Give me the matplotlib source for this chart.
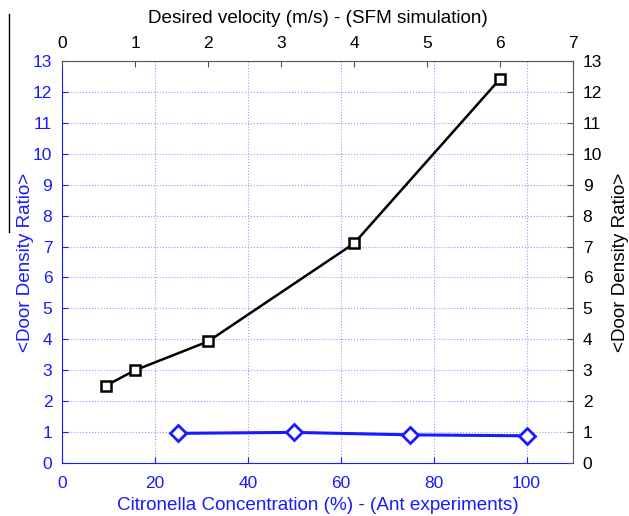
import matplotlib
matplotlib.use("Agg")
import matplotlib.pyplot as plt
from matplotlib.lines import Line2D

plt.rcParams['font.family'] = ['Liberation Sans', 'DejaVu Sans']

# Data
sfm_velocity = [0.6, 1, 2, 4, 6]
sfm_ratio = [2.5, 3.0, 3.93, 7.1, 12.42]
ant_conc = [25, 50, 75, 100]
ant_ratio = [0.96, 0.99, 0.91, 0.88]

bottom_ticks = [0, 20, 40, 60, 80, 100]
top_ticks = [0, 1, 2, 3, 4, 5, 6, 7]
y_ticks = list(range(0, 14))

BLUE = '#1a1aff'
TS = 12.5
LS = 13.6
fig = plt.figure(figsize=(6.29, 5.16), dpi=100)
ax = fig.add_axes([0.0986, 0.1027, 0.8124, 0.7791])

ax.set_xlim(0, 110)
ax.set_ylim(0, 13)
ax.set_xticks(bottom_ticks)
ax.set_yticks(y_ticks)
ax.grid(True, linestyle=':', color='#9999ff', linewidth=0.8)
ax.tick_params(axis='both', direction='in', colors=BLUE, labelsize=TS, length=4)
ax.tick_params(axis='x', pad=9)
ax.tick_params(axis='y', pad=7)
for s in ['left', 'bottom']:
    ax.spines[s].set_color(BLUE)
for s in ['top', 'right']:
    ax.spines[s].set_color('#555555')
ax.plot(ant_conc, ant_ratio, color=BLUE, linewidth=2.2, marker='D', markersize=8,
        markerfacecolor='white', markeredgecolor=BLUE, markeredgewidth=2, zorder=5)
ax.set_xlabel('Citronella Concentration (%) - (Ant experiments)', color=BLUE, fontsize=LS, va='center')
ax.xaxis.set_label_coords(0.5, (463 - 505) / 402)
ax.set_ylabel('<Door Density Ratio>', color=BLUE, fontsize=LS, va='center')
ax.yaxis.set_label_coords((25 - 62) / 511, 0.5)

# right y-axis
axr = ax.twinx()
axr.set_ylim(0, 13)
axr.set_yticks(y_ticks)
axr.tick_params(axis='y', direction='in', colors='#555555', labelcolor='black', labelsize=TS, length=4, pad=7)
axr.set_ylabel('<Door Density Ratio>', color='black', fontsize=LS, va='center')
axr.yaxis.set_label_coords((620 - 62) / 511, 0.5)
for s in axr.spines.values():
    s.set_visible(False)

# top x-axis
axt = ax.twiny()
axt.set_xlim(0, 7)
axt.set_xticks(top_ticks)
axt.tick_params(axis='x', direction='in', colors='#555555', labelcolor='black', labelsize=TS, length=4, pad=7)
axt.set_xlabel('Desired velocity (m/s) - (SFM simulation)', color='black', fontsize=LS, va='center')
axt.xaxis.set_label_coords(0.5, (463 - 19) / 402)
for s in axt.spines.values():
    s.set_visible(False)
axt.plot(sfm_velocity, sfm_ratio, color='black', linewidth=1.8, marker='s', markersize=7,
         markerfacecolor='white', markeredgecolor='black', markeredgewidth=1.8, zorder=5)

# stray vertical line at left edge of the reference
fig.add_artist(Line2D([9/629, 9/629], [1 - 14/516, 1 - 232/516], color='black', linewidth=1))

fig.savefig('out.png', dpi=100)
